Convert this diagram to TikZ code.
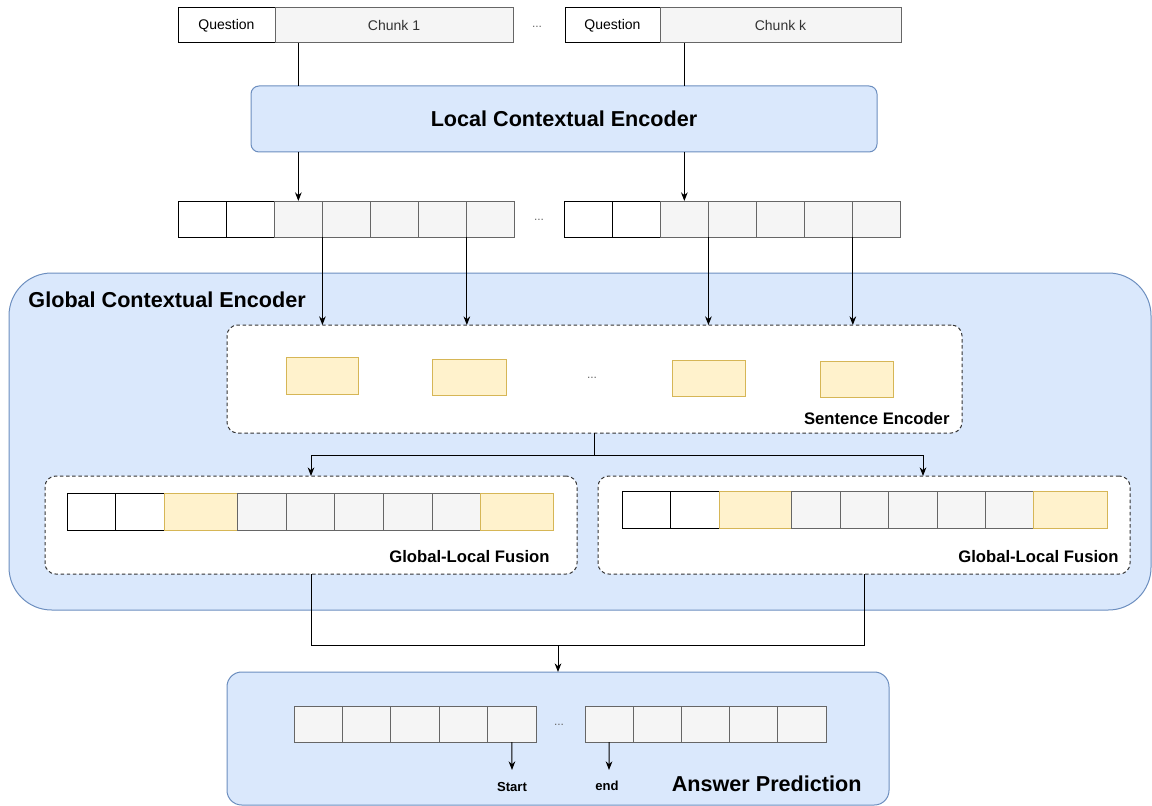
\documentclass[tikz,border=0pt]{standalone}
\usepackage{fontspec}
\setmainfont{Liberation Sans}
\usetikzlibrary{calc,arrows.meta}
\definecolor{blueF}{HTML}{DAE8FC}
\definecolor{blueD}{HTML}{6C8EBF}
\definecolor{grayF}{HTML}{F5F5F5}
\definecolor{grayD}{HTML}{666666}
\definecolor{yelF}{HTML}{FFF2CC}
\definecolor{yelD}{HTML}{D6B656}
\definecolor{txt}{HTML}{333333}
\begin{document}
\begin{tikzpicture}[x=0.75pt,y=-0.75pt,
  line width=0.75pt,
  sz/.style 2 args={minimum width=#1*0.75pt, minimum height=#2*0.75pt},
  cellbase/.style={anchor=north west, inner sep=0pt, outer sep=0pt},
  blk/.style={cellbase, draw=black, fill=white},
  gry/.style={cellbase, draw=grayD, fill=grayF},
  yel/.style={cellbase, draw=yelD, fill=yelF},
  bluebox/.style={cellbase, draw=blueD, fill=blueF},
  dashbox/.style={cellbase, draw=txt, fill=white, dash pattern=on 2.6pt off 2pt, rounded corners=8pt},
  small/.style={font=\fontsize{10.5}{12}\selectfont},
  midlab/.style={font=\bfseries\fontsize{12.5}{14}\selectfont, inner sep=0pt},
  biglab/.style={font=\bfseries\fontsize{16.2}{18}\selectfont, inner sep=0pt},
  dots/.style={font=\fontsize{9}{10}\selectfont, text=grayD, inner sep=0pt},
  conn/.style={draw=black},
  arr/.style={draw=black, -{Stealth[length=6.5pt,width=5pt]}}
]
\useasboundingbox (0,0) rectangle (1152,806);

% ---------- input sequences ----------
\node[blk, sz={97}{35}, small] (q1) at (178,8) {Question};
\node[gry, sz={238}{35}, small, text=txt] (ch1) at (275,8) {Chunk 1};
\node[dots] (topdots) at (537,27) {...};
\node[blk, sz={95}{35}, small] (q2) at (565,8) {Question};
\node[gry, sz={241}{35}, small, text=txt] (chk) at (660,8) {Chunk k};

% ---------- local encoder ----------
\node[bluebox, sz={626}{66}, rounded corners=6pt, biglab] (lce) at (251,86) {Local Contextual Encoder};

% ---------- global encoder frame ----------
\node[bluebox, sz={1142}{337}, rounded corners=32pt] (gce) at (9,273) {};
\node[biglab, anchor=west] (gcelab) at (28,300) {Global Contextual Encoder};

% ---------- encoded token rows ----------
\foreach \i/\s in {0/blk,1/blk,2/gry,3/gry,4/gry,5/gry,6/gry}{
  \node[\s, sz={48.14}{36}] (ra\i) at ({178+\i*48.14},201) {};
  \node[\s, sz={48.14}{36}] (rb\i) at ({564+\i*48.14},201) {};
}
\node[dots] (middots) at (539,220) {...};

% ---------- sentence encoder ----------
\node[dashbox, sz={735}{108}] (se) at (227,325) {};
\node[yel, sz={72}{37}] (s1) at (286,357) {};
\node[yel, sz={74}{36}] (s2) at (432,359) {};
\node[dots] (sdots) at (592,378) {...};
\node[yel, sz={73}{36}] (s3) at (672,360) {};
\node[yel, sz={73}{36}] (s4) at (820,361) {};
\node[midlab, anchor=east] (selab) at (950,419) {Sentence Encoder};

% ---------- global-local fusion ----------
\node[dashbox, sz={532}{98}] (fu1) at (45,476) {};
\node[dashbox, sz={532}{98}] (fu2) at (598,476) {};
\foreach \a/\b/\s [count=\i] in {67/115/blk,115/164/blk,164/237/yel,237/286/gry,286/334/gry,334/383/gry,383/432/gry,432/480/gry,480/553/yel}
  \node[\s, minimum width={(\b-\a)*0.75pt}, minimum height=37*0.75pt] (fa\i) at (\a,493) {};
\foreach \a/\b/\s [count=\i] in {622/670/blk,670/719/blk,719/791/yel,791/840/gry,840/888/gry,888/937/gry,937/985/gry,985/1033/gry,1033/1107/yel}
  \node[\s, minimum width={(\b-\a)*0.75pt}, minimum height=37*0.75pt] (fb\i) at (\a,491) {};
\node[midlab, anchor=east] (fu1lab) at (550,557) {Global-Local Fusion};
\node[midlab, anchor=east] (fu2lab) at (1119,557) {Global-Local Fusion};

% ---------- answer prediction ----------
\node[bluebox, sz={662}{133}, rounded corners=11pt] (ap) at (227,672) {};
\foreach \i in {0,...,4}{
  \node[gry, sz={48.4}{36}] (pa\i) at ({294+\i*48.4},706) {};
  \node[gry, sz={48.2}{36}] (pb\i) at ({585+\i*48.2},706) {};
}
\node[dots] (apdots) at (559,725) {...};
\coordinate (st) at (512,770);
\coordinate (en) at (609,770);
\node[font=\bfseries\fontsize{9.8}{11}\selectfont, inner sep=0pt] (stlab) at (512,787) {Start};
\node[font=\bfseries\fontsize{9.8}{11}\selectfont, inner sep=0pt] (enlab) at (607,786) {end};
\node[biglab, anchor=east] (aplab) at (862,784) {Answer Prediction};

% ---------- connectors ----------
\draw[conn] (ra2.north |- ch1.south) -- (ra2.north |- lce.north);
\draw[conn] (rb2.north |- chk.south) -- (rb2.north |- lce.north);
\draw[arr] (ra2.north |- lce.south) -- (ra2.north);
\draw[arr] (rb2.north |- lce.south) -- (rb2.north);

\draw[arr] (ra3.south west) -- (ra3.south west |- se.north);
\draw[arr] (ra6.south west) -- (ra6.south west |- se.north);
\draw[arr] (rb3.south west) -- (rb3.south west |- se.north);
\draw[arr] (rb6.south west) -- (rb6.south west |- se.north);

\coordinate (split) at ($(se.south)+(0,22)$);
\coordinate (fu2in) at ($(fu2.north)+(59,0)$);
\draw[conn] (se.south) -- (split);
\draw[conn] (split -| fu1.north) -- (split -| fu2in);
\draw[arr] (split -| fu1.north) -- (fu1.north);
\draw[arr] (split -| fu2in) -- (fu2in);

\coordinate (merge) at ($(fu1.south)+(0,71)$);
\draw[conn] (fu1.south) -- (merge) -- (merge -| fu2.south) -- (fu2.south);
\draw[arr] (merge -| ap.north) -- (ap.north);

\draw[arr] (pa4.south) -- (st);
\draw[arr] (pb0.south) -- (en);
\end{tikzpicture}
\end{document}
